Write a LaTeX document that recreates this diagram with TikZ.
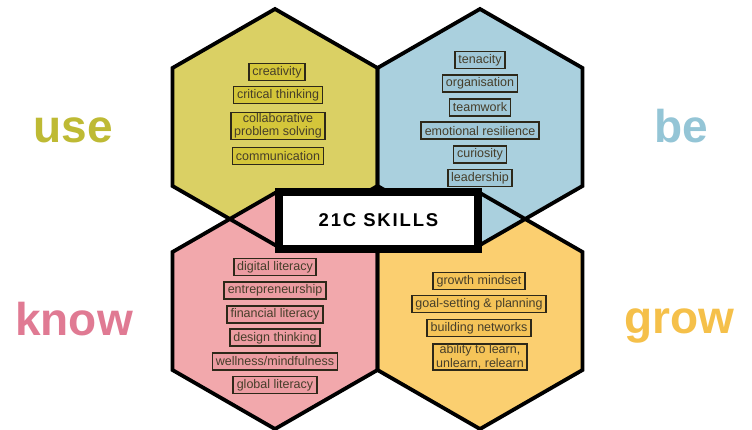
\documentclass[tikz,border=0pt]{standalone}
\usepackage{fontspec}
\setmainfont{Liberation Sans}
\definecolor{useyellow}{RGB}{218,208,100}
\definecolor{usetag}{RGB}{212,198,58}
\definecolor{useword}{RGB}{190,186,52}
\definecolor{beblue}{RGB}{170,208,222}
\definecolor{betag}{RGB}{160,200,216}
\definecolor{beword}{RGB}{148,197,214}
\definecolor{knowpink}{RGB}{242,168,172}
\definecolor{knowtag}{RGB}{236,156,162}
\definecolor{knowword}{RGB}{224,122,147}
\definecolor{growgold}{RGB}{251,207,112}
\definecolor{growtag}{RGB}{245,196,88}
\definecolor{growword}{RGB}{245,192,74}
\definecolor{tagline}{RGB}{45,40,25}
\definecolor{tagtext}{RGB}{70,62,42}

\tikzset{
  hexline/.style={draw=black, line width=3.8pt, line join=miter},
  skill/.style={draw=tagline, line width=1.8pt, inner xsep=3.5pt, inner ysep=1pt,
    minimum height=17pt, text=tagtext, align=center,
    font=\fontsize{12.5}{13.5}\selectfont},
  bigword/.style={anchor=base, font=\fontsize{46}{50}\selectfont\bfseries},
  title/.style={draw=black, fill=white, line width=8pt, minimum width=199pt,
    minimum height=57pt, font=\fontsize{18.5}{20}\selectfont\bfseries\addfontfeature{LetterSpace=10}},
}

\begin{document}
\begin{tikzpicture}[x=1pt, y=-1pt]
  \useasboundingbox (0,0) rectangle (752,430);

  % the four hexagons: fills first, outlines on top
  \foreach \cx/\cy/\col in {275/127/useyellow, 480/311/growgold, 275/311/knowpink, 480/127/beblue} {%
    \fill[\col, shift={(\cx,\cy)}] (0,-118) -- (102.5,-59) -- (102.5,59) -- (0,118)
      -- (-102.5,59) -- (-102.5,-59) -- cycle;
  }
  \foreach \cx/\cy in {275/127, 480/127, 275/311, 480/311} {%
    \draw[hexline, shift={(\cx,\cy)}] (0,-118) -- (102.5,-59) -- (102.5,59) -- (0,118)
      -- (-102.5,59) -- (-102.5,-59) -- cycle;
  }

  \node[title] (skills) at (378.5,220.5) {21C SKILLS};

  % use
  \node[skill, fill=usetag] (use1) at (277,72) {creativity};
  \node[skill, fill=usetag] (use2) at (278,95) {critical thinking};
  \node[skill, fill=usetag] (use3) at (278,126) {collaborative\\problem solving};
  \node[skill, fill=usetag] (use4) at (278,156) {communication};

  % be
  \foreach \t [count=\i] in {tenacity, organisation, teamwork, emotional resilience, curiosity, leadership} {%
    \node[skill, fill=betag] (be\i) at (480,36.4+23.6*\i) {\t};
  }

  % know
  \foreach \t [count=\i] in {digital literacy, entrepreneurship, financial literacy, design thinking, wellness/mindfulness, global literacy} {%
    \node[skill, fill=knowtag] (know\i) at (275,243.4+23.6*\i) {\t};
  }

  % grow
  \node[skill, fill=growtag] (grow1) at (479,281) {growth mindset};
  \node[skill, fill=growtag] (grow2) at (479,304) {goal-setting \& planning};
  \node[skill, fill=growtag] (grow3) at (479,328) {building networks};
  \node[skill, fill=growtag] (grow4) at (480,357) {ability to learn,\\unlearn, relearn};

  \node[bigword, text=useword] (use) at (73,143) {use};
  \node[bigword, text=beword] (be) at (681,143) {be};
  \node[bigword, text=knowword] (know) at (74,335) {know};
  \node[bigword, text=growword] (grow) at (679,333) {grow};
\end{tikzpicture}
\end{document}
